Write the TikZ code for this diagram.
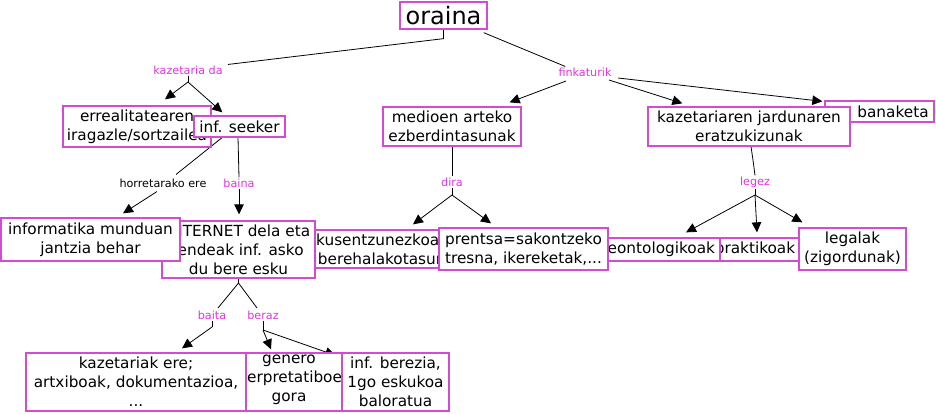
\documentclass[tikz,border=0pt]{standalone}
\usepackage{fontspec}
\setmainfont{DejaVu Sans}
\usetikzlibrary{arrows.meta,calc}
\definecolor{boxpink}{RGB}{210,76,210}
\definecolor{lblpink}{RGB}{226,50,226}
\pgfdeclarelayer{bg}
\pgfsetlayers{bg,main}
\newcommand\mtext{\fontsize{15.3}{19}\selectfont}
\newcommand\ltext{\fontsize{11.2}{13}\selectfont}
\tikzset{
  cbox/.style={draw=boxpink, fill=white, line width=1.3pt, inner sep=0pt, align=center, font=\mtext},
  ctext/.style={inner sep=0pt, align=center, font=\mtext},
  lbl/.style={text=lblpink, inner sep=1pt, font=\ltext},
  blbl/.style={text=black, inner sep=1pt, font=\ltext},
  conn/.style={draw=black, line width=0.8pt},
  arr/.style={conn, -{Triangle[length=10pt,width=9.5pt]}},
}
\begin{document}
\begin{tikzpicture}[x=1pt,y=-1pt]
\useasboundingbox (0,0) rectangle (936,413);
% boxes (drawing order matters: later ones cover earlier ones)
\node[cbox, minimum width=87, minimum height=27, font=\fontsize{24}{28}\selectfont] (oraina) at (443.5,15.5) {oraina};
\node[cbox, minimum width=148, minimum height=41] (err) at (137,126.5) {errealitatearen\\iragazle/sortzailea};
\node[cbox, minimum width=91, minimum height=21] (infs) at (239.5,126.5) {inf. seeker};
\node[cbox, minimum width=138, minimum height=39] (med) at (452,126.5) {medioen arteko\\ezberdintasunak};
\node[cbox, minimum width=109, minimum height=21] (ban) at (879.5,111.5) {};
\node[ctext] (bant) at (893,111.5) {banaketa};
\node[cbox, minimum width=202, minimum height=39] (kaz) at (749,126.5) {kazetariaren jardunaren\\eratzukizunak};
\node[cbox, minimum width=160, minimum height=38] (ikus) at (380,249) {};
\node[ctext] (ikust) at (ikus.center) {ikusentzunezkoak\\=berehalakotasuna};
\node[cbox, minimum width=153, minimum height=57] (inet) at (238.5,249.5) {INTERNET dela eta\\jendeak inf. asko\\du bere esku};
\node[cbox, minimum width=179, minimum height=43] (info) at (90.5,239.5) {informatika munduan\\jantzia behar};
\node[cbox, minimum width=88, minimum height=23] (prakt) at (755,249.5) {praktikoak};
\node[cbox, minimum width=127, minimum height=23] (deont) at (656.5,249.5) {deontologikoak};
\node[cbox, minimum width=169, minimum height=42] (prent) at (523.5,249) {prentsa=sakontzeko\\tresna, ikereketak,...};
\node[cbox, minimum width=107, minimum height=42] (legal) at (852.5,249) {legalak\\(zigordunak)};
\node[cbox, minimum width=96, minimum height=58] (gen) at (294,382) {};
\node[ctext] (gent) at (289,380) {genero\\interpretatiboek\\gora};
\node[cbox, minimum width=220, minimum height=58] (kaze) at (136,382) {kazetariak ere;\\artxiboak, dokumentazioa,\\...};
\node[cbox, minimum width=107, minimum height=58] (infb) at (395.5,382) {inf. berezia,\\1go eskukoa\\baloratua};
% link labels
\node[lbl] (kazlbl) at (188,70) {kazetaria da};
\node[lbl] (fink) at (585,72) {finkaturik};
\node[blbl] (horr) at (163,183) {horretarako ere};
\node[lbl] (baina) at (239,183) {baina};
\node[lbl] (dira) at (452,182) {dira};
\node[lbl] (legez) at (755,182) {legez};
\node[lbl] (baita) at (212,315) {baita};
\node[lbl] (beraz) at (263,315) {beraz};
% junctions
\coordinate (jkaz) at (188,82);
\coordinate (jdira) at (452,195);
\coordinate (jlegez) at (755,195);
\coordinate (jinet) at (238.5,283);
\coordinate (jbaita) at (212,327);
\coordinate (jberaz) at (263,330);
\begin{pgfonlayer}{bg}
\draw[conn] (oraina.south) -- ++(0,9) -- ($(kazlbl.north east)+(4,0)$);
\draw[conn] (kazlbl.south) -- (jkaz);
\draw[arr] (jkaz) -- ($(err.north)+(28,-6)$);
\draw[arr] (jkaz) -- ($(infs.north west)+(29,-3)$);
\draw[conn] ($(oraina.south east)+(-4,3)$) -- ($(fink.north west)+(8,0)$);
\draw[arr] ($(fink.center)+(-19,9)$) -- ($(med.north east)+(-12,-4)$);
\draw[arr] ($(fink.center)+(24,8)$) -- ($(kaz.north west)+(35,-3)$);
\draw[arr] ($(fink.center)+(33,6)$) -- ($(ban.north west)+(-2,1)$);
\draw[conn] ($(kaz.south)+(2,0)$) .. controls (753,160) .. (legez.north);
\draw[conn] (legez.south) -- (jlegez);
\draw[arr] (jlegez) -- ($(deont.north)+(29.5,-5)$);
\draw[arr] (jlegez) -- ($(prakt.north)+(2,-5)$);
\draw[arr] (jlegez) -- ($(legal.north west)+(4,-5)$);
\draw[conn] (med.south) -- (dira.north);
\draw[conn] (dira.south) -- (jdira);
\draw[arr] (jdira) -- ($(ikus.north)+(33,-5)$);
\draw[arr] (jdira) -- ($(prent.north)+(-32.5,-4)$);
\draw[conn] ($(infs.south)+(-17.5,0)$) -- ($(horr.north)+(13,-3)$);
\draw[arr] ($(horr.south)+(-6,3)$) -- ($(info.north)+(32.5,-4)$);
\draw[conn] ($(infs.south)+(-1.5,0)$) -- (baina.north);
\draw[arr] (baina.south) -- ($(inet.north)+(0.5,-6)$);
\draw[conn] (inet.south) -- (jinet);
\draw[conn] (jinet) -- ($(baita.north)+(6,-1.5)$);
\draw[conn] (jinet) -- ($(beraz.north)+(-6,-1.5)$);
\draw[conn] (baita.south) -- (jbaita);
\draw[arr] (jbaita) -- ($(kaze.north)+(46,-4)$);
\draw[conn] (beraz.south) -- (jberaz);
\draw[arr] (jberaz) -- ($(gen.north)+(-23,-3)$);
\draw[arr] (jberaz) -- ($(infb.north west)+(-6,3)$);
\end{pgfonlayer}
\end{tikzpicture}
\end{document}
